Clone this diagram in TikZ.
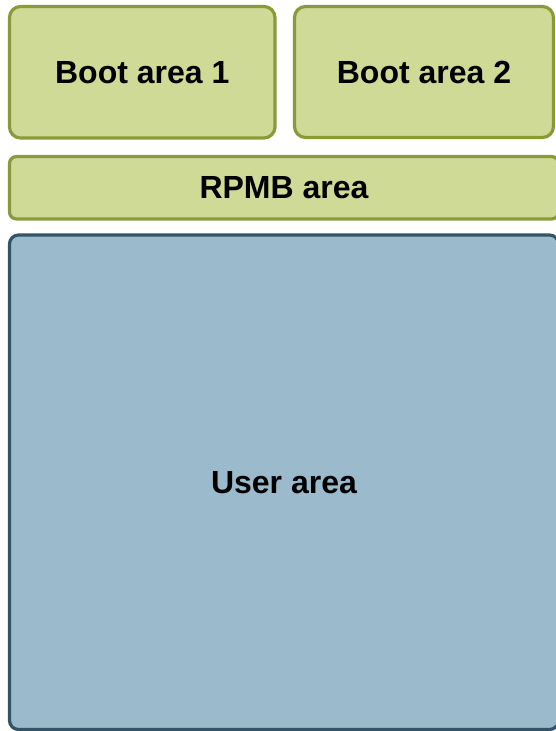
\documentclass[tikz,border=0pt]{standalone}
\usepackage{fontspec}
\setmainfont{Liberation Sans}
\usetikzlibrary{positioning}

\definecolor{areagreen}{RGB}{207,218,150}
\definecolor{areagreenline}{RGB}{138,154,56}
\definecolor{areablue}{RGB}{155,187,204}
\definecolor{areablueline}{RGB}{50,84,102}

\tikzset{
  area/.style={draw,line width=3.2pt,inner sep=0pt,
    font=\fontsize{32}{38}\selectfont\bfseries},
  greenarea/.style={area,fill=areagreen,draw=areagreenline},
  bluearea/.style={area,fill=areablue,draw=areablueline}
}

\begin{document}
\begin{tikzpicture}[x=1pt,y=-1pt]
\useasboundingbox (0,0) rectangle (555,731);
% ---------- boot partitions ----------
\node[greenarea,rounded corners=11pt,minimum width=265.5pt,minimum height=131.5pt]
  (boot1) at (142.25,72.25) {Boot area 1};
\node[greenarea,rounded corners=11pt,minimum width=259pt,minimum height=131pt]
  (boot2) at (424,72) {Boot area 2};
% ---------- RPMB ----------
\node[greenarea,rounded corners=7pt,minimum width=549pt,minimum height=62.5pt]
  (rpmb) at (284,187.75) {RPMB area};
% ---------- user area ----------
\node[bluearea,rounded corners=9pt,minimum width=549pt,minimum height=494.5pt]
  (user) at (284,482.25) {User area};
\end{tikzpicture}
\end{document}
